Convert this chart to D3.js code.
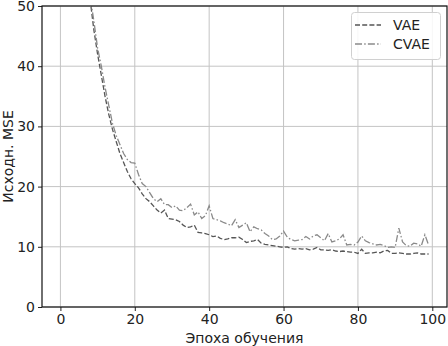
<!DOCTYPE html>
<html><head><meta charset="utf-8">
<script src="https://cdn.jsdelivr.net/npm/d3@7"></script>
<style>body{margin:0;background:#fff}svg{display:block}text{font-family:"DejaVu Sans",sans-serif}</style>
</head><body>
<script>
const epochs = d3.range(0, 100);
const vae = [125,105,92,82,74,67,61,55.5,51,46,42,38.5,35,32,29.5,27.5,25.5,24,22.5,21.3,
20.5,19.8,18.8,18,17.5,16.8,16.1,15.6,16.1,14.7,14.6,14.5,14.2,13.6,13.2,13.3,13.6,12.4,12.3,12.2,
12.0,11.7,11.8,11.4,11.2,11.3,11.5,11.5,11.6,11.2,10.7,10.9,11.0,11.2,10.6,10.4,10.3,10.2,10.1,10.0,
9.9,10.0,9.7,9.6,9.7,9.6,9.7,9.5,9.6,9.9,9.5,9.5,9.4,9.5,9.3,9.2,9.3,9.2,9.1,9.1,
8.9,9.6,8.9,9.0,9.0,9.1,9.0,9.3,9.4,8.9,8.9,9.0,8.9,8.8,8.8,8.9,9.0,8.8,8.8,8.8];
const cvae = [128,108,94,84,76,69,63,57,51.5,47.5,43,40,36.5,33.5,30.5,28.5,27,25.5,24.5,24,
23.9,22,20.5,20,19,18,17.5,18,17,17,16.5,16.8,16.1,16,16.5,17.1,15.3,15.8,14.7,15.2,
16.8,14.7,14.5,14.3,14.0,13.8,13.5,14.5,13.2,13.6,14.0,12.5,13.3,13.0,12.8,12.2,11.8,11.2,11.3,11.8,
12.6,11.6,11.2,11.0,11.1,11.2,11.7,11.3,11.8,12.0,11.5,11.0,12.2,10.8,11.0,11.3,12.0,10.3,10.4,10.3,
10.8,11.8,11.0,10.7,10.5,10.3,10.4,10.2,9.9,10.0,9.9,13.1,10.8,10.2,10.1,10.6,10.5,10.1,12.0,10.3];
const xTicks = [0,20,40,60,80,100];
const yTicks = [0,10,20,30,40,50];
const seriesNames = ["VAE","CVAE"];

const W = 448, H = 346;
const L = 42, R = 447, T = 6, B = 307;
const FS = 14;
const svg = d3.select("body").append("svg").attr("width", W).attr("height", H);
const x = d3.scaleLinear().domain([-4.95, 103.95]).range([L, R]);
const y = d3.scaleLinear().domain([0, 50]).range([B, T]);

const grid = svg.append("g");
grid.selectAll(".gx").data(xTicks).join("line")
  .attr("x1", d => x(d)).attr("x2", d => x(d)).attr("y1", T).attr("y2", B)
  .attr("stroke", "#c4c4c4").attr("stroke-width", 1);
grid.selectAll(".gy").data(yTicks).join("line")
  .attr("x1", L).attr("x2", R).attr("y1", d => y(d)).attr("y2", d => y(d))
  .attr("stroke", "#c4c4c4").attr("stroke-width", 1);

svg.append("clipPath").attr("id", "clip").append("rect")
  .attr("x", L).attr("y", T).attr("width", R - L).attr("height", B - T);

const line = d3.line().x((d, i) => x(epochs[i])).y(d => y(d));
const plot = svg.append("g").attr("clip-path", "url(#clip)");
plot.append("path").datum(vae).attr("d", line).attr("fill", "none")
  .attr("stroke", "#555").attr("stroke-width", 1.3).attr("stroke-dasharray", "5,2.2");
plot.append("path").datum(cvae).attr("d", line).attr("fill", "none")
  .attr("stroke", "#8a8a8a").attr("stroke-width", 1.3).attr("stroke-dasharray", "7,2.2,1.5,2.2");

const xAxis = d3.axisBottom(x).tickValues(xTicks).tickSize(4).tickPadding(3);
const gx = svg.append("g").attr("transform", `translate(0,${B})`).call(xAxis);
const yAxis = d3.axisLeft(y).tickValues(yTicks).tickSize(4).tickPadding(3);
const gy = svg.append("g").attr("transform", `translate(${L},0)`).call(yAxis);
[gx, gy].forEach(g => {
  g.select(".domain").remove();
  g.selectAll("text").attr("font-size", FS).attr("fill", "#222").style("font-family", '"DejaVu Sans",sans-serif');
  g.selectAll("line").attr("stroke", "#222");
});

svg.append("rect").attr("x", L).attr("y", T).attr("width", R - L).attr("height", B - T)
  .attr("fill", "none").attr("stroke", "#111").attr("stroke-width", 1.2);

svg.append("text").attr("x", (L + R) / 2).attr("y", 343).attr("text-anchor", "middle")
  .attr("font-size", FS).attr("fill", "#222").text("Эпоха обучения");
svg.append("text").attr("transform", `translate(13,${(T + B) / 2}) rotate(-90)`)
  .attr("text-anchor", "middle").attr("font-size", FS).attr("fill", "#222").text("Исходн. MSE");

const lg = svg.append("g");
lg.append("rect").attr("x", 351.5).attr("y", 12.5).attr("width", 89).attr("height", 47)
  .attr("rx", 3).attr("fill", "#fff").attr("fill-opacity", 0.85).attr("stroke", "#d0d0d0");
const dashes = ["5,2.2", "7,2.2,1.5,2.2"];
const cols = ["#555", "#8a8a8a"];
seriesNames.forEach((n, i) => {
  const yy = 25 + i * 19;
  lg.append("line").attr("x1", 355).attr("x2", 381).attr("y1", yy).attr("y2", yy)
    .attr("stroke", cols[i]).attr("stroke-width", 1.3).attr("stroke-dasharray", dashes[i]);
  lg.append("text").attr("x", 393).attr("y", yy + 5).attr("font-size", FS).attr("fill", "#222").text(n);
});
</script>
</body></html>
